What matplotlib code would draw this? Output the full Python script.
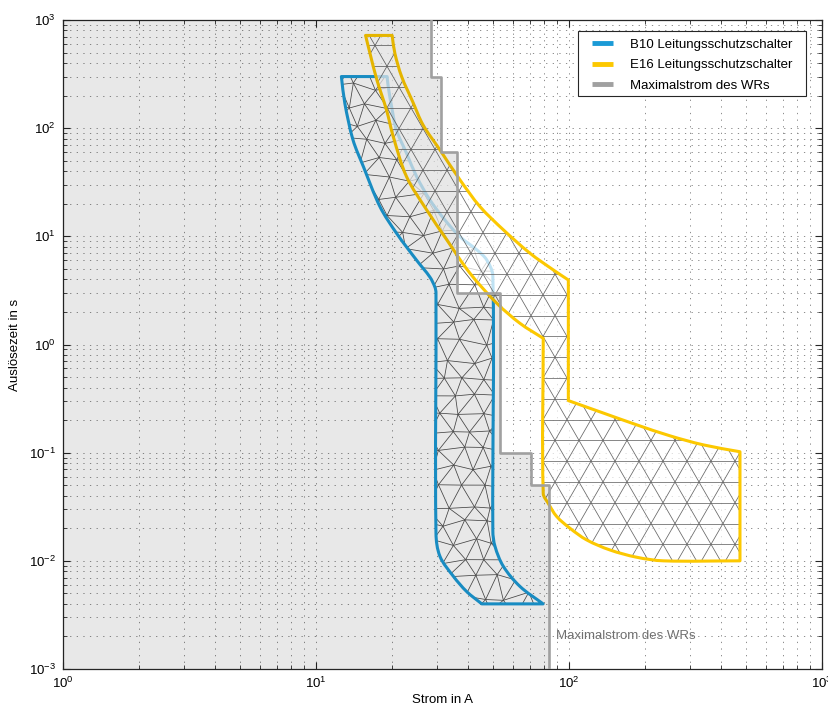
"""Auslösekennlinien B10 / E16 gegen den Maximalstrom des Wechselrichters."""

import numpy as np
import matplotlib
matplotlib.use("Agg")
import matplotlib.pyplot as plt
import matplotlib.transforms as mtransforms
from matplotlib.collections import LineCollection
from matplotlib.legend_handler import HandlerLine2D
from matplotlib.lines import Line2D
from matplotlib.patches import PathPatch, Rectangle
from matplotlib.path import Path
import matplotlib.tri as mtri

plt.rcParams["font.family"] = ["Liberation Sans", "DejaVu Sans"]
plt.rcParams["mathtext.fontset"] = "custom"
plt.rcParams["mathtext.rm"] = "Liberation Sans"
plt.rcParams["mathtext.it"] = "Liberation Sans"

# B10 Leitungsschutzschalter: Strom (A) / Auslösezeit (s), Umriss im Uhrzeigersinn
b10_strom = [12.6, 13.0, 14.0, 15.4, 17.9, 20.8, 25.0, 28.2, 29.5, 29.8,
             29.8, 30.9, 34.9, 39.4, 45.2, 79.0,
             64.0, 55.0, 51.0, 50.0, 50.0, 47.3, 43.2, 37.1, 32.3, 28.2,
             25.0, 22.8, 20.8, 19.9, 19.3, 19.1]
b10_zeit = [300, 170, 78, 44, 18.8, 10.7, 6.0, 4.2, 3.4, 3.0,
            0.018, 0.011, 0.0072, 0.0052, 0.004, 0.004,
            0.0058, 0.0089, 0.0136, 0.019, 4.3, 6.05, 7.5, 9.9, 14.2, 21.7,
            35.6, 58.6, 96, 158, 242, 300]

# E16 Leitungsschutzschalter
e16_strom = [15.7, 16.35, 17.4, 19.0, 20.2, 22.8, 27.4, 32.9, 40.6, 51.8, 64.0, 79.1,
             79.1, 82.8, 89.4, 100.9, 117.5, 145.2, 185, 236, 474,
             474, 340, 251, 185, 137, 99.4,
             99.4, 86.7, 70.1, 55.0, 44.5, 37.1, 30.9, 26.5, 24.1, 21.8, 20.5, 20.0]
e16_zeit = [720, 490, 280, 147, 83.5, 35.6, 17.5, 9.26, 4.56, 2.41, 1.57, 1.14,
            0.042, 0.034, 0.0257, 0.020, 0.0156, 0.0126, 0.0108, 0.010, 0.010,
            0.102, 0.118, 0.143, 0.181, 0.232, 0.303,
            3.95, 4.89, 6.98, 11.5, 18.8, 33.2, 62.9, 107, 176, 300, 492, 720]

# Maximalstrom des Wechselrichters (Stufenkennlinie)
wr_strom = [28.5, 28.5, 31.2, 31.2, 36.1, 36.1, 53.4, 53.4, 70.8, 70.8, 83.4, 83.4]
wr_zeit = [1000, 300, 300, 60, 60, 3, 3, 0.1, 0.1, 0.05, 0.05, 0.001]

C_B10 = "#1b9ad6"
C_E16 = "#fcc800"
C_WR = "#a0a0a0"

W, H, DPI = 829, 709, 100
AX_L, AX_R, AX_T, AX_B = 63, 822, 20, 669
AX_W, AX_H = AX_R - AX_L, AX_B - AX_T
DEC_X, DEC_Y = AX_W / 3, AX_H / 6  # Pixel pro Dekade


def smooth_outline(strom, zeit, corner_deg=30):
    """Geschlossener Bezier-Pfad durch die Stützpunkte, Ecken bleiben scharf."""
    p = np.column_stack([np.log10(strom) * DEC_X, np.log10(zeit) * DEC_Y])
    n = len(p)
    d_in = p - np.roll(p, 1, axis=0)
    d_out = np.roll(p, -1, axis=0) - p
    ang = np.degrees(np.abs(np.arctan2(d_in[:, 0] * d_out[:, 1] - d_in[:, 1] * d_out[:, 0],
                                       (d_in * d_out).sum(1))))
    corner = ang > corner_deg

    def unit(v):
        return v / np.linalg.norm(v)

    verts = [p[0]]
    codes = [Path.MOVETO]
    for i in range(n):
        j = (i + 1) % n
        seg = p[j] - p[i]
        L = np.linalg.norm(seg)
        t0 = unit(seg) if corner[i] else unit(p[j] - p[i - 1])
        t1 = unit(seg) if corner[j] else unit(p[(j + 1) % n] - p[i])
        verts += [p[i] + t0 * L / 3, p[j] - t1 * L / 3, p[j]]
        codes += [Path.CURVE4] * 3
    verts.append(p[0])
    codes.append(Path.CLOSEPOLY)
    v = np.array(verts)
    return Path(np.column_stack([10 ** (v[:, 0] / DEC_X), 10 ** (v[:, 1] / DEC_Y)]), codes)


def triangle_grid(side):
    h = side * np.sqrt(3) / 2
    shift = AX_H / np.sqrt(3)
    segs = []
    for k in range(int(AX_H / h) + 2):
        segs.append([(0, k * h), (AX_W, k * h)])
    n = int((AX_W + shift) / side) + 2
    for c in range(-n, n):
        segs.append([(c * side, 0), (c * side + shift, AX_H)])
        segs.append([(c * side, 0), (c * side - shift, AX_H)])
    return segs


def irregular_mesh(side):
    # Sechseckgitter mit fester Verschiebung je Knoten, danach Delaunay
    h = side * np.sqrt(3) / 2
    xs, ys = [], []
    for j in range(int(AX_H / h) + 2):
        for i in range(int(AX_W / side) + 2):
            a = np.sin(i * 12.9898 + j * 78.233) * 43758.5453
            b = np.sin(i * 39.3468 + j * 11.135) * 24634.6345
            dx = 0.2 * side * (2 * (a - np.floor(a)) - 1)
            dy = 0.2 * side * (2 * (b - np.floor(b)) - 1)
            xs.append(i * side + (j % 2) * side / 2 + dx)
            ys.append(j * h + dy)
    tri = mtri.Triangulation(np.array(xs), np.array(ys))
    pts = np.column_stack([xs, ys])
    return [pts[e] for e in tri.edges]


fig = plt.figure(figsize=(W / DPI, H / DPI), dpi=DPI)
ax = fig.add_axes([AX_L / W, 1 - AX_B / H, AX_W / W, AX_H / H])
ax.set_xscale("log")
ax.set_yscale("log")
ax.set_xlim(1, 1000)
ax.set_ylim(1e-3, 1e3)

# Pixel-Koordinaten relativ zur Achsen-Ecke für die Netz-Schraffuren
px_trans = mtransforms.Affine2D().scale(1 / AX_W, 1 / AX_H) + ax.transAxes

# B10-Band: deckende Fläche mit unregelmäßigem Dreiecksnetz
b10_path = smooth_outline(b10_strom, b10_zeit)
b10_face = PathPatch(b10_path, facecolor="white", edgecolor="none", zorder=2)
ax.add_patch(b10_face)
mesh = LineCollection(irregular_mesh(21), colors="#4a4a4a", linewidths=0.55,
                      transform=px_trans, zorder=2.1)
ax.add_collection(mesh)
mesh.set_clip_path(b10_face)
ax.add_patch(PathPatch(b10_path, facecolor="none", edgecolor=C_B10, lw=2.2,
                       joinstyle="round", zorder=2.2))

# E16-Band: halbtransparente Fläche mit regelmäßigem Dreiecksraster
e16_path = smooth_outline(e16_strom, e16_zeit)
e16_face = PathPatch(e16_path, facecolor=(1, 1, 1, 0.72), edgecolor="none", zorder=3)
ax.add_patch(e16_face)
grid_tri = LineCollection(triangle_grid(24), colors="#666666", linewidths=0.55,
                          transform=px_trans, zorder=3.1)
ax.add_collection(grid_tri)
grid_tri.set_clip_path(e16_face)
ax.add_patch(PathPatch(e16_path, facecolor="none", edgecolor=C_E16, lw=2.2,
                       joinstyle="round", zorder=3.2))

# Bereich unterhalb des Maximalstroms grau hinterlegen
ax.fill_betweenx(wr_zeit, 1, wr_strom, color=(0, 0, 0, 0.09), lw=0, zorder=3.5)
ax.plot(wr_strom, wr_zeit, color=C_WR, lw=1.9, zorder=4)
ax.text(89, 0.002, "Maximalstrom des WRs", color="#707070", fontsize=9.5,
        ha="left", va="center", zorder=4)

ax.set_axisbelow(True)
ax.grid(True, which="both", color="#8c8c8c", lw=0.7, linestyle=(0, (1.3, 5.5)))
ax.tick_params(which="both", direction="in", top=True, right=True,
               labelsize=9.5, pad=5, color="#262626")
ax.tick_params(which="major", length=5)
ax.tick_params(which="minor", length=3)
for sp in ax.spines.values():
    sp.set_color("#262626")
    sp.set_linewidth(0.9)

ax.set_xlabel("Strom in A", fontsize=9.5, labelpad=2)
ax.set_ylabel("Auslösezeit in s", fontsize=9.5, labelpad=6)

# Legende: Rahmen separat, Einträge ohne eigenen Rahmen
ax.add_patch(Rectangle(((578 - AX_L) / AX_W, 1 - (96 - AX_T) / AX_H),
                       228 / AX_W, 65 / AX_H, transform=ax.transAxes,
                       facecolor="white", edgecolor="#262626", lw=0.8, zorder=9))
handles = [Line2D([], [], color=c, lw=3.5, solid_capstyle="butt")
           for c in (C_B10, C_E16, C_WR)]
labels = ["B10 Leitungsschutzschalter", "E16 Leitungsschutzschalter",
          "Maximalstrom des WRs"]
leg = ax.legend(handles, labels, loc="upper left",
                bbox_to_anchor=((592 - AX_L) / AX_W, 1 - (38.5 - AX_T) / AX_H),
                borderaxespad=0, borderpad=0, frameon=False, fontsize=9.5,
                handlelength=1.6, handletextpad=1.29, labelspacing=0.62,
                handler_map={Line2D: HandlerLine2D(numpoints=1)})
leg.set_zorder(10)

fig.savefig("out.png", dpi=DPI)
